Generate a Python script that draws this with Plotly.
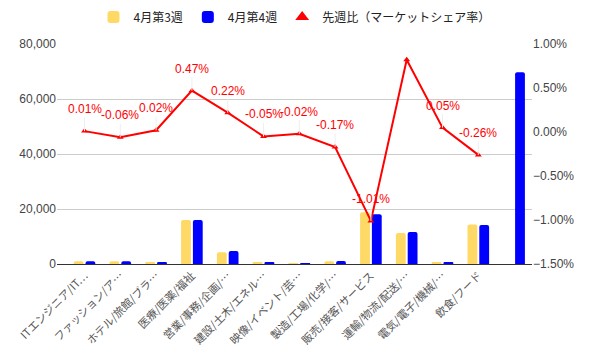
import plotly.graph_objects as go

categories = ["ITエンジニア/IT…", "ファッション/ア…", "ホテル/旅館/ブラ…", "医療/医薬/福祉",
              "営業/事務/企画/…", "建設/土木/エネル…", "映像/イベント/芸…", "製造/工場/化学/…",
              "販売/接客/サービス", "運輸/物流/配送/…", "電気/電子/機械/…", "飲食/フード", " "]
week3 = [1000, 1000, 400, 16000, 4300, 700, 300, 1000, 18800, 11300, 700, 14400, 0]
week4 = [1000, 1000, 400, 16000, 4700, 700, 100, 1100, 18100, 11600, 700, 14200, 69700]
share_change = [0.01, -0.06, 0.02, 0.47, 0.22, -0.05, -0.02, -0.17, -1.01, 0.82, 0.05, -0.26]
share_labels = ["0.01%", "-0.06%", "0.02%", "0.47%", "0.22%", "-0.05%", "-0.02%", "-0.17%",
                "-1.01%", "", "0.05%", "-0.26%"]

YELLOW = "#FFD966"
BLUE = "#0000FF"
RED = "#FF0000"
TXT = "#444444"
FONT = "Arial, 'Liberation Sans', 'Noto Sans CJK JP', sans-serif"
JFONT = "'Noto Sans CJK JP', sans-serif"

fig = go.Figure()
fig.add_trace(go.Bar(x=categories, y=week3, name="4月第3週", marker_color=YELLOW,
                     marker_line_width=0))
fig.add_trace(go.Bar(x=categories, y=week4, name="4月第4週", marker_color=BLUE,
                     marker_line_width=0))
fig.add_trace(go.Scatter(x=categories[:len(share_change)], y=share_change, yaxis="y2",
                         mode="lines+markers", line=dict(color=RED, width=2),
                         marker=dict(symbol="triangle-up", size=6, color=RED),
                         showlegend=False, name="先週比（マーケットシェア率）"))
# legend proxy (triangle only)
fig.add_trace(go.Scatter(x=[None], y=[None], yaxis="y2", mode="markers",
                         marker=dict(symbol="triangle-up", size=12, color=RED),
                         name="先週比（マーケットシェア率）"))

for c, v, t in zip(categories, share_change, share_labels):
    if not t:
        continue
    fig.add_annotation(x=c, y=v, yref="y2", text=t, showarrow=True, arrowhead=0,
                       arrowwidth=1, arrowcolor="#eeeeee", ax=0, ay=-22,
                       font=dict(color=RED, size=12, family=FONT))

# the page body has an 8px default margin, so the figure is sized to fit inside it
fig.update_layout(
    width=584, height=356,
    margin=dict(l=49, r=60, t=36, b=100, autoexpand=False),
    paper_bgcolor="white", plot_bgcolor="white",
    font=dict(family=FONT, size=12, color=TXT),
    barmode="group", bargap=0.34, bargroupgap=0.17, barcornerradius=2,
    legend=dict(orientation="h", x=0.5, xanchor="center", y=1.123, yanchor="middle",
                font=dict(size=12, color="#222222", family=JFONT)),
    xaxis=dict(type="category", tickangle=-45, showline=True, linecolor="#333333",
               linewidth=1, ticks="", showgrid=False, automargin=False,
               tickfont=dict(size=11, color="#555555", family=JFONT)),
    yaxis=dict(range=[0, 80000], dtick=20000, tickformat=",", showgrid=True,
               gridcolor="#cccccc", zeroline=False, ticks="", automargin=False,
               tickfont=dict(size=12, color=TXT)),
    yaxis2=dict(range=[-1.5, 1.0], dtick=0.5, tickformat=".2f", ticksuffix="%",
                overlaying="y", side="right", showgrid=False, zeroline=False,
                automargin=False, tickfont=dict(size=12, color=TXT)),
)

fig.write_html("out.html")
